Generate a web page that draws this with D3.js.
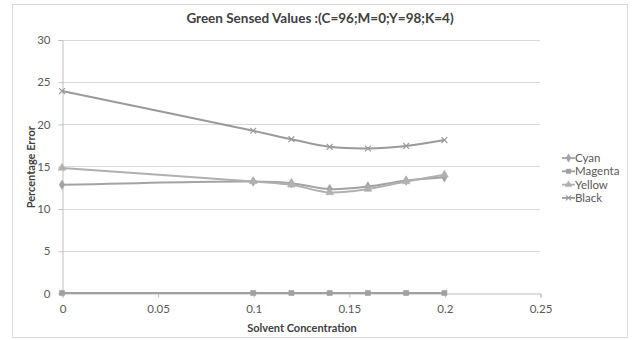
<!DOCTYPE html>
<html>
<head>
<meta charset="utf-8">
<script src="https://cdn.jsdelivr.net/npm/d3@7"></script>
<style>
  html, body { margin: 0; padding: 0; background: #fff; }
  svg { display: block; font-family: Lato, "Open Sans", sans-serif; }
</style>
</head>
<body>
<svg id="chart" width="633" height="340"></svg>
<script>
// Solvent concentrations sampled for each ink
const concentration = [0, 0.1, 0.12, 0.14, 0.16, 0.18, 0.2];

// Percentage error per ink channel
const cyan    = [12.8, 13.2, 13.0, 12.3, 12.6, 13.3, 13.7];
const magenta = [0, 0, 0, 0, 0, 0, 0];
const yellow  = [14.8, 13.2, 12.8, 11.9, 12.3, 13.2, 14.0];
const black   = [23.9, 19.2, 18.2, 17.3, 17.1, 17.4, 18.1];

const seriesNames = ["Cyan", "Magenta", "Yellow", "Black"];
const xTicks = [0, 0.05, 0.1, 0.15, 0.2, 0.25];
const yTicks = [0, 5, 10, 15, 20, 25, 30];

const series = [
  { name: seriesNames[0], values: cyan,    color: "#a3a3a3", symbol: d3.symbolDiamond },
  { name: seriesNames[1], values: magenta, color: "#a0a0a0", symbol: d3.symbolSquare },
  { name: seriesNames[2], values: yellow,  color: "#b0b0b0", symbol: d3.symbolTriangle },
  { name: seriesNames[3], values: black,   color: "#9a9a9a", symbol: d3.symbolX }
];

const svg = d3.select("#chart");

// Outer chart frame
svg.append("rect")
  .attr("x", 12.5).attr("y", 4.5)
  .attr("width", 615).attr("height", 333)
  .attr("fill", "#fff").attr("stroke", "#d9d9d9");

const plot = { left: 62, right: 540, top: 39.5, bottom: 293 };

const x = d3.scaleLinear().domain([0, 0.25]).range([plot.left, plot.right]);
const y = d3.scaleLinear().domain([0, 30]).range([plot.bottom, plot.top]);

// Horizontal gridlines
svg.append("g")
  .selectAll("line")
  .data(yTicks.filter(t => t > 0))
  .join("line")
  .attr("x1", plot.left).attr("x2", plot.right)
  .attr("y1", d => Math.round(y(d)) + 0.5).attr("y2", d => Math.round(y(d)) + 0.5)
  .attr("stroke", "#d9d9d9").attr("stroke-width", 1);

// Y axis
const yAxis = svg.append("g")
  .attr("transform", `translate(${plot.left + 0.5},0.5)`)
  .call(d3.axisLeft(y).tickValues(yTicks).tickSize(4).tickFormat(d3.format("d")));
yAxis.select(".domain").attr("stroke", "#bfbfbf");
yAxis.selectAll(".tick line").attr("stroke", "#bfbfbf");
yAxis.selectAll(".tick text")
  .attr("x", -12)
  .attr("fill", "#595959")
  .style("font-size", "11.5px")
  .style("font-family", "Lato, sans-serif");

// X axis
const xAxis = svg.append("g")
  .attr("transform", `translate(0.5,${plot.bottom + 0.5})`)
  .call(d3.axisBottom(x).tickValues(xTicks).tickSize(4).tickFormat(d => d3.format("")(d)));
xAxis.select(".domain").attr("stroke", "#bfbfbf");
xAxis.selectAll(".tick line").attr("stroke", "#bfbfbf");
xAxis.selectAll(".tick text")
  .attr("y", 11)
  .attr("fill", "#595959")
  .style("font-size", "11.5px")
  .style("font-family", "Lato, sans-serif");

// Smoothed series lines
const line = d3.line()
  .x((d, i) => x(concentration[i]))
  .y(d => y(d))
  .curve(d3.curveCatmullRom.alpha(0.5));

const gSeries = svg.append("g");
series.forEach(s => {
  gSeries.append("path")
    .datum(s.values)
    .attr("d", line)
    .attr("fill", "none")
    .attr("stroke", s.color)
    .attr("stroke-width", 2);
});
series.forEach(s => {
  const isX = s.symbol === d3.symbolX;
  const sym = d3.symbol().type(s.symbol).size(isX ? 24 : 26);
  gSeries.append("g")
    .selectAll("path")
    .data(s.values)
    .join("path")
    .attr("transform", (d, i) => `translate(${x(concentration[i])},${y(d)})`)
    .attr("d", sym)
    .attr("fill", isX ? "none" : s.color)
    .attr("stroke", s.color)
    .attr("stroke-width", isX ? 1.2 : 0.6);
});

// Legend
const legend = svg.append("g");
series.forEach((s, i) => {
  const isX = s.symbol === d3.symbolX;
  const ly = 158 + i * 13.3;
  const g = legend.append("g").attr("transform", `translate(0,${ly})`);
  g.append("line")
    .attr("x1", 562).attr("x2", 575)
    .attr("stroke", s.color).attr("stroke-width", 1.8);
  g.append("path")
    .attr("transform", "translate(568.5,0)")
    .attr("d", d3.symbol().type(s.symbol).size(isX ? 18 : 20))
    .attr("fill", isX ? "none" : s.color)
    .attr("stroke", s.color)
    .attr("stroke-width", isX ? 1.1 : 0.5);
  g.append("text")
    .attr("x", 575).attr("y", 0)
    .attr("dy", "0.35em")
    .attr("fill", "#595959")
    .style("font-size", "11.5px")
    .text(s.name);
});

// Title and axis titles
svg.append("text")
  .attr("x", 320).attr("y", 23)
  .attr("text-anchor", "middle")
  .attr("fill", "#404040")
  .style("font-size", "13.5px")
  .style("font-weight", "bold")
  .text("Green Sensed Values :(C=96;M=0;Y=98;K=4)");

svg.append("text")
  .attr("transform", `translate(35,${(plot.top + plot.bottom) / 2 + 1}) rotate(-90)`)
  .attr("text-anchor", "middle")
  .attr("fill", "#404040")
  .style("font-size", "11px")
  .style("font-weight", "bold")
  .text("Percentage Error");

svg.append("text")
  .attr("x", (plot.left + plot.right) / 2 + 1).attr("y", 332)
  .attr("text-anchor", "middle")
  .attr("fill", "#404040")
  .style("font-size", "11px")
  .style("font-weight", "bold")
  .text("Solvent Concentration");
</script>
</body>
</html>
